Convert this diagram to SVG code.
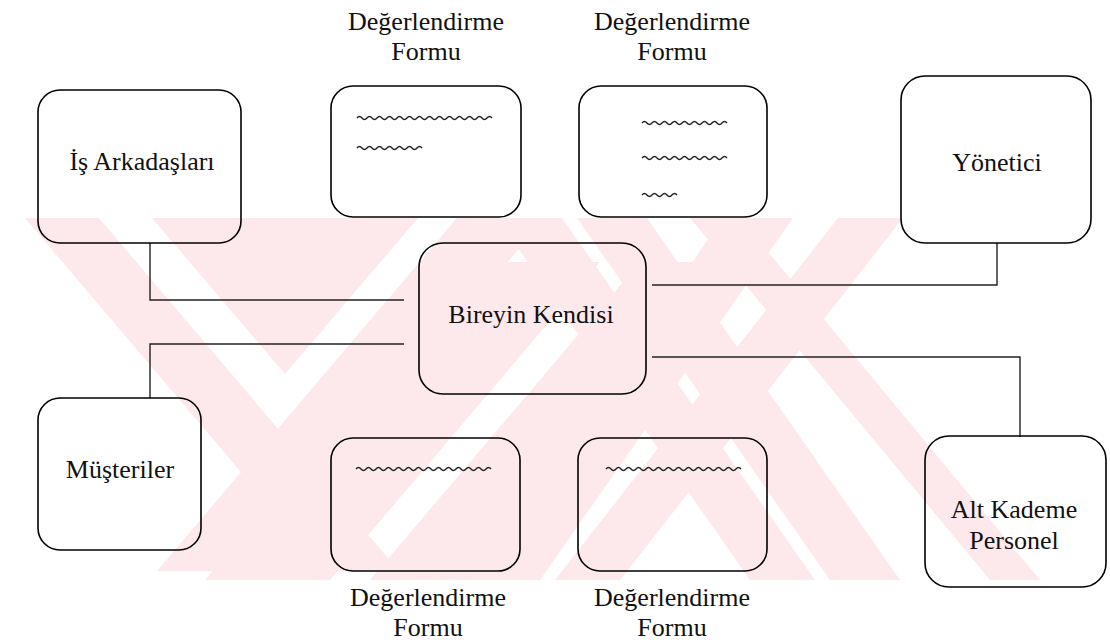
<svg xmlns="http://www.w3.org/2000/svg" width="1110" height="644" viewBox="0 0 1110 644">
<defs>
<style>
.box{fill:none;stroke:#000;stroke-width:1.6}
.lbl{font-family:"Liberation Serif","Tinos","Times New Roman",Times,"Noto Serif","DejaVu Serif",serif;font-size:26px;fill:#111;text-anchor:middle}
.wave{fill:none;stroke:#222;stroke-width:1.4}
.conn{fill:none;stroke:#222;stroke-width:1.4}
.wm{fill:#fde8ec}
</style>
<clipPath id="wmclip"><rect x="25" y="218" width="1020" height="362"/></clipPath>
</defs>
<rect width="1110" height="644" fill="#fff"/>
<g id="watermark" clip-path="url(#wmclip)">
<polygon class="wm" points="25,218 99,218 399,571 325,571"/>
<polygon class="wm" points="152,218 418,218 285,374"/>
<polygon class="wm" points="457,218 545,218 245,571 157,571"/>
<polygon class="wm" points="205,580 330,580 600,262 475,262"/>
<polygon class="wm" points="370,580 470,580 740,262 640,262"/>
<polygon class="wm" points="470,580 540,580 793,218 723,218"/>
<polygon class="wm" points="555,580 620,580 903,218 838,218"/>
<polygon class="wm" points="497,218 562,218 815,580 750,580"/>
<polygon class="wm" points="577,218 647,218 900,580 830,580"/>
<polygon class="wm" points="690,218 740,218 1040,580 990,580"/>
</g>
<g id="connectors">
<path class="conn" d="M150,243 V300 H404"/>
<path class="conn" d="M150,398 V344 H404"/>
<path class="conn" d="M997,243 V285 H652"/>
<path class="conn" d="M652,357 H1020 V437"/>
</g>
<g id="is-arkadaslari">
<rect class="box" x="38" y="90" width="203" height="153" rx="22"/>
<text class="lbl" x="142" y="170">İş Arkadaşları</text>
</g>
<g id="form-tl">
<text class="lbl" x="426" y="30">Değerlendirme</text>
<text class="lbl" x="426" y="60">Formu</text>
<rect class="box" x="331" y="86" width="190" height="131" rx="22"/>
<path class="wave" d="M357,118 q2.5,-3 5,0 t5,0 t5,0 t5,0 t5,0 t5,0 t5,0 t5,0 t5,0 t5,0 t5,0 t5,0 t5,0 t5,0 t5,0 t5,0 t5,0 t5,0 t5,0 t5,0 t5,0 t5,0 t5,0 t5,0 t5,0 t5,0 t5,0"/>
<path class="wave" d="M357,148 q2.5,-3 5,0 t5,0 t5,0 t5,0 t5,0 t5,0 t5,0 t5,0 t5,0 t5,0 t5,0 t5,0 t5,0"/>
</g>
<g id="form-tr">
<text class="lbl" x="672" y="30">Değerlendirme</text>
<text class="lbl" x="672" y="60">Formu</text>
<rect class="box" x="579" y="86" width="188" height="131" rx="22"/>
<path class="wave" d="M642,123 q2.5,-3 5,0 t5,0 t5,0 t5,0 t5,0 t5,0 t5,0 t5,0 t5,0 t5,0 t5,0 t5,0 t5,0 t5,0 t5,0 t5,0 t5,0"/>
<path class="wave" d="M642,158 q2.5,-3 5,0 t5,0 t5,0 t5,0 t5,0 t5,0 t5,0 t5,0 t5,0 t5,0 t5,0 t5,0 t5,0 t5,0 t5,0 t5,0 t5,0"/>
<path class="wave" d="M642,195 q2.5,-3 5,0 t5,0 t5,0 t5,0 t5,0 t5,0 t5,0"/>
</g>
<g id="yonetici">
<rect class="box" x="901" y="76" width="190" height="167" rx="24"/>
<text class="lbl" x="997" y="171">Yönetici</text>
</g>
<g id="bireyin-kendisi">
<rect class="box" x="419" y="243" width="227" height="151" rx="24"/>
<text class="lbl" x="531" y="323">Bireyin Kendisi</text>
</g>
<g id="musteriler">
<rect class="box" x="38" y="398" width="163" height="152" rx="22"/>
<text class="lbl" x="120" y="478">Müşteriler</text>
</g>
<g id="form-bl">
<rect class="box" x="331" y="438" width="189" height="133" rx="22"/>
<path class="wave" d="M356,469 q2.5,-3 5,0 t5,0 t5,0 t5,0 t5,0 t5,0 t5,0 t5,0 t5,0 t5,0 t5,0 t5,0 t5,0 t5,0 t5,0 t5,0 t5,0 t5,0 t5,0 t5,0 t5,0 t5,0 t5,0 t5,0 t5,0 t5,0 t5,0"/>
<text class="lbl" x="428" y="606">Değerlendirme</text>
<text class="lbl" x="428" y="636">Formu</text>
</g>
<g id="form-br">
<rect class="box" x="578" y="438" width="189" height="133" rx="22"/>
<path class="wave" d="M606,469 q2.5,-3 5,0 t5,0 t5,0 t5,0 t5,0 t5,0 t5,0 t5,0 t5,0 t5,0 t5,0 t5,0 t5,0 t5,0 t5,0 t5,0 t5,0 t5,0 t5,0 t5,0 t5,0 t5,0 t5,0 t5,0 t5,0 t5,0 t5,0"/>
<text class="lbl" x="672" y="606">Değerlendirme</text>
<text class="lbl" x="672" y="636">Formu</text>
</g>
<g id="alt-kademe-personel">
<rect class="box" x="925" y="436" width="181" height="151" rx="24"/>
<text class="lbl" x="1014" y="518">Alt Kademe</text>
<text class="lbl" x="1014" y="549">Personel</text>
</g>
</svg>
